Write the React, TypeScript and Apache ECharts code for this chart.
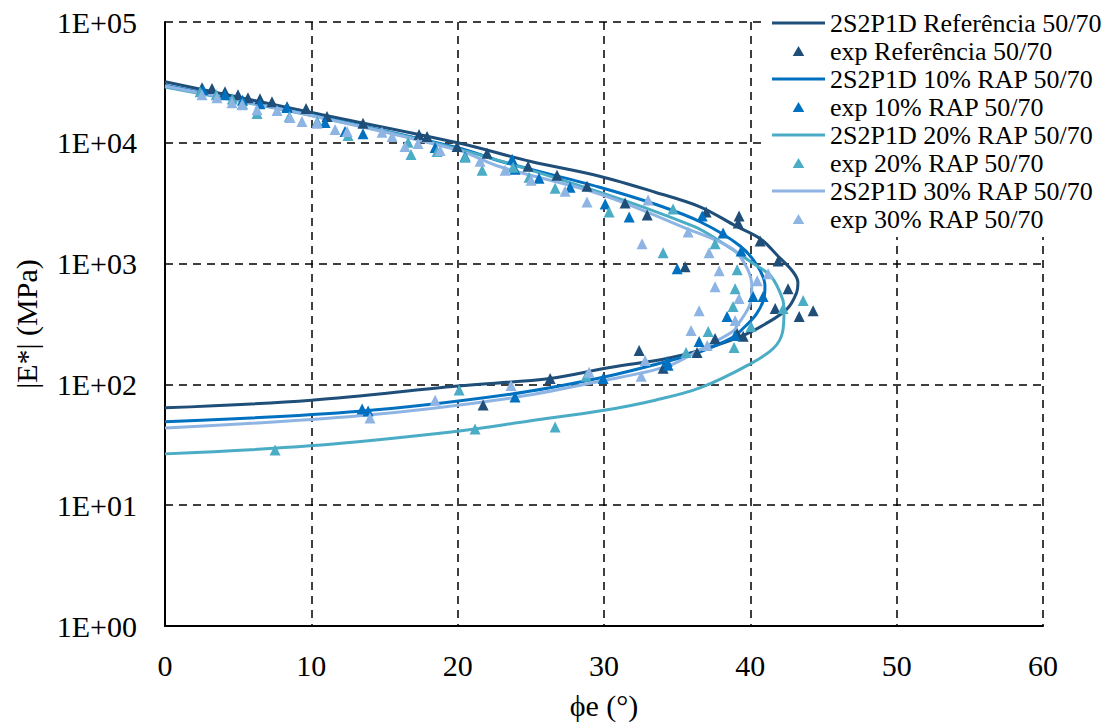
import React, { useEffect, useRef } from "react";
import * as echarts from "echarts";

// Black space: phase angle (°) vs |E*| (MPa)
const seriesNames = [
  "2S2P1D Referência 50/70",
  "exp Referência 50/70",
  "2S2P1D 10% RAP 50/70",
  "exp 10% RAP 50/70",
  "2S2P1D 20% RAP 50/70",
  "exp 20% RAP 50/70",
  "2S2P1D 30% RAP 50/70",
  "exp 30% RAP 50/70",
];
const colors = ["#1F4E79", "#1F4E79", "#0070C0", "#0070C0", "#4BACC6", "#4BACC6", "#8EB4E3", "#8EB4E3"];

const modelRef: [number, number][] = [
  [0, 32000], [10, 17800], [20, 10000], [25, 7000], [29.7, 5290], [33.5, 3900], [36.6, 2940],
  [39, 2050], [40.7, 1600], [41.9, 1150], [42.9, 860], [43.25, 700], [43.15, 570], [42.5, 420],
  [41.0, 315], [39.5, 254], [36.6, 192], [34.3, 164], [30.4, 138], [26.3, 112], [20, 97], [10, 74], [0, 64],
];
const model10: [number, number][] = [
  [0, 30000], [10, 17000], [20, 9100], [23, 7000], [29.7, 4290], [33.5, 3100], [36.6, 2210],
  [39.3, 1400], [40.5, 950], [41.0, 650], [40.9, 500], [40.4, 380], [39.5, 290], [38.8, 245],
  [36.6, 187], [34.3, 155], [29.7, 113], [23.6, 83], [13.3, 60], [0, 49],
];
const model20: [number, number][] = [
  [0, 29000], [10, 16800], [20, 8900], [29.7, 3900], [36.1, 2040], [37.7, 1590], [40.2, 1000],
  [41.4, 790], [42.2, 510], [42.3, 400], [42.2, 270], [41.6, 200], [40, 148], [36.6, 94],
  [33.5, 74], [30, 61], [25, 50], [20, 41], [9.9, 31], [0, 26.6],
];
const model30: [number, number][] = [
  [0, 29500], [10, 16800], [20, 8700], [22.9, 6330], [29.7, 3760], [35.7, 1940], [38.8, 1320],
  [39.8, 905], [40.1, 650], [40.0, 470], [39.1, 307], [38.8, 274], [36.6, 195], [34.3, 141],
  [29.7, 106], [23.6, 77], [13.3, 55], [0, 43.6],
];

const expRef: [number, number][] = [
  [2.53, 28600], [3.21, 28100], [4.1, 26500], [4.99, 25000], [5.67, 23600], [6.49, 23200],
  [7.31, 21900], [8.34, 19900], [9.64, 19200], [11.07, 16500], [13.53, 14500], [17.36, 11700],
  [17.91, 11300], [19.96, 9340], [22.01, 8180], [24.81, 6400], [26.79, 5390], [28.84, 4370],
  [31.44, 3170], [32.95, 2520], [36.98, 2670], [39.23, 2480], [39.17, 2170], [40.67, 1540],
  [41.9, 1050], [42.58, 620], [41.7, 424], [44.29, 408], [43.34, 365], [39.51, 250],
  [39.1, 264], [37.59, 240], [36.36, 184], [34.04, 136], [32.4, 191], [35.54, 940],
  [26.32, 112], [21.74, 67.4],
];
const exp10: [number, number][] = [
  [2.6, 27500], [4.1, 25000], [5.3, 22500], [6.49, 21100], [8.34, 19600], [10.94, 14700],
  [12.3, 12400], [13.53, 11900], [18.46, 9160], [20.51, 7730], [23.92, 6040], [23.72, 7300],
  [25.56, 5090], [27.68, 4290], [30.08, 3110], [31.72, 2430], [36.71, 2480], [38.14, 1790],
  [39.37, 1270], [35.0, 906], [40.19, 533], [40.87, 533], [38.41, 365], [38.96, 254],
  [36.5, 227], [34.31, 155], [34.38, 144], [29.94, 112], [23.92, 78.5], [13.47, 62.5], [13.88, 60.1],
];
const exp20: [number, number][] = [
  [2.4, 26500], [3.5, 25000], [4.6, 23000], [5.3, 21000], [6.29, 17500], [8.5, 16500],
  [10.4, 15000], [12.51, 11500], [16.61, 10100], [16.81, 8020], [18.59, 8490], [20.51, 7590],
  [21.67, 5930], [23.79, 6270], [24.88, 5190], [26.66, 4210], [30.35, 2670], [34.72, 2830],
  [34.04, 1230], [37.59, 1460], [39.1, 889], [38.96, 620], [38.82, 441], [40.05, 301],
  [43.61, 494], [42.24, 424], [37.12, 274], [38.89, 202], [35.61, 184], [28.78, 117],
  [20.1, 90], [26.66, 44.4], [21.19, 42.8], [7.52, 28.7],
];
const exp30: [number, number][] = [
  [2.53, 25000], [3.55, 23600], [4.58, 21500], [5.26, 20700], [6.29, 18800], [7.66, 18500],
  [8.54, 16200], [9.36, 15000], [10.39, 14500], [11.62, 12900], [12.44, 12400], [14.83, 12200],
  [15.52, 11300], [16.4, 9340], [17.29, 9890], [18.8, 8650], [21.53, 7030], [23.24, 5930],
  [25.02, 4900], [27.34, 3980], [28.84, 3230], [33.01, 3360], [32.6, 1460], [35.75, 1830],
  [37.18, 1230], [37.87, 873], [41.22, 824], [40.47, 722], [37.59, 644], [39.23, 513],
  [36.5, 408], [38.96, 338], [35.95, 279], [37.05, 210], [32.81, 158], [32.54, 117],
  [28.98, 126], [23.65, 98], [18.46, 74], [14.01, 52.7],
];

const xTicks = { min: 0, max: 60, interval: 10 };
const yRange = { min: 1, max: 100000 };

const FONT = "'Liberation Serif', 'Times New Roman', serif";
const LINE_ICON = "path://M0,0 L53,0 L53,3 L0,3 Z";
const TRI_ICON = "path://M5.5,0 L11,9.5 L0,9.5 Z";

export default function App() {
  const ref = useRef<HTMLDivElement>(null);
  useEffect(() => {
    document.body.style.margin = "0";
    const chart = echarts.init(ref.current!, null, { renderer: "svg" });
    const datasets = [modelRef, expRef, model10, exp10, model20, exp20, model30, exp30];
    const series = datasets.map((d, i) => {
      const isLine = i % 2 === 0;
      if (isLine) {
        return {
          name: seriesNames[i],
          type: "line",
          data: d,
          symbol: "none",
          smooth: 0.35,
          lineStyle: { color: colors[i], width: 3 },
          itemStyle: { color: colors[i] },
          z: 2,
        };
      }
      return {
        name: seriesNames[i],
        type: "scatter",
        data: d,
        symbol: "triangle",
        symbolSize: 11,
        itemStyle: { color: colors[i], opacity: 1 },
        z: 3,
      };
    });
    chart.setOption({
      animation: false,
      textStyle: { fontFamily: FONT },
      grid: { left: 165, right: 76, top: 22, bottom: 96, containLabel: false },
      legend: {
        orient: "vertical",
        left: 762,
        top: 9,
        padding: [0, 10, 4, 10],
        backgroundColor: "#ffffff",
        itemWidth: 53,
        itemHeight: 10,
        itemGap: 0,
        symbolKeepAspect: true,
        data: seriesNames.map((n, i) => ({
          name: n,
          icon: i % 2 === 0 ? LINE_ICON : TRI_ICON,
          itemStyle: { color: colors[i], borderWidth: 0, opacity: 1 },
        })),
        textStyle: { fontFamily: FONT, fontSize: 26, color: "#000", lineHeight: 28 },
        z: 10,
      },
      xAxis: {
        type: "value",
        min: xTicks.min,
        max: xTicks.max,
        interval: xTicks.interval,
        name: "ϕe (°)",
        nameLocation: "middle",
        nameGap: 64,
        nameTextStyle: { fontFamily: FONT, fontSize: 30, color: "#000" },
        axisLine: { show: true, onZero: false, lineStyle: { color: "#000", width: 2 } },
        axisTick: { show: false },
        axisLabel: { fontFamily: FONT, fontSize: 30, color: "#000", margin: 24 },
        splitLine: { show: true, lineStyle: { color: "#000", type: [8, 6], width: 1.5 } },
      },
      yAxis: {
        type: "log",
        logBase: 10,
        min: yRange.min,
        max: yRange.max,
        splitNumber: 5,
        name: "|E*| (MPa)",
        nameLocation: "middle",
        nameGap: 124,
        nameTextStyle: { fontFamily: FONT, fontSize: 30, color: "#000" },
        axisLine: { show: true, lineStyle: { color: "#000", width: 2 } },
        axisTick: { show: false },
        axisLabel: {
          fontFamily: FONT,
          fontSize: 30,
          color: "#000",
          margin: 28,
          formatter: (v: number) => {
            const e = Math.round(Math.log10(v));
            return "1E+" + String(e).padStart(2, "0");
          },
        },
        splitLine: { show: true, lineStyle: { color: "#000", type: [8, 6], width: 1.5 } },
      },
      series,
    });
    return () => chart.dispose();
  }, []);
  return <div ref={ref} style={{ width: 1119, height: 725, position: "absolute", left: 0, top: 0 }} />;
}
